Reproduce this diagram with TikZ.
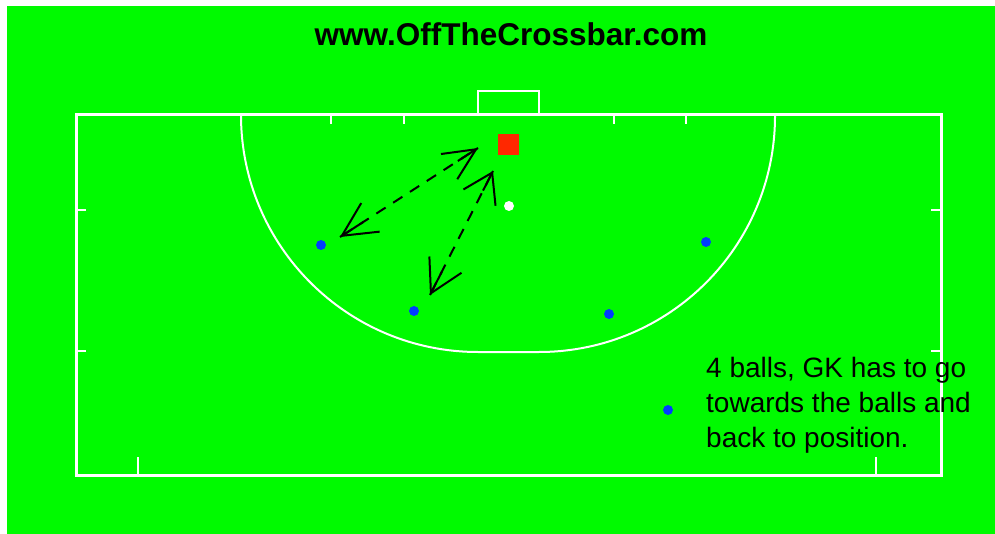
\documentclass[tikz,border=0pt]{standalone}
\usepackage{fontspec}
\setmainfont{Liberation Sans}
\usetikzlibrary{arrows.meta,calc}
\definecolor{pitch}{RGB}{0,250,0}
\definecolor{ballblue}{RGB}{0,60,255}
\definecolor{gkred}{RGB}{255,40,0}
\tikzset{
  fieldline/.style={draw=white, line width=3pt},
  dline/.style={draw=white, line width=2pt},
  ball/.style={circle, fill=ballblue, minimum size=10pt, inner sep=0pt},
  gk/.style={rectangle, fill=gkred, minimum size=21pt, inner sep=0pt},
  spot/.style={circle, fill=white, minimum size=10pt, inner sep=0pt},
  run/.style={draw=black, line width=2pt, dash pattern=on 11pt off 9pt},
  barbA/.style={{Straight Barb[length=34pt,width=34pt,line width=2pt]}-{Straight Barb[length=32pt,width=30pt,line width=2pt]}},
  barbB/.style={{Straight Barb[length=32pt,width=36pt,line width=2pt]}-{Straight Barb[length=28pt,width=36pt,line width=2pt]}},
  stem/.style={draw=black, line width=2pt},
  note/.style={anchor=base west, inner sep=0pt, font=\fontsize{28}{35}\selectfont},
}
\begin{document}
\begin{tikzpicture}[x=1pt,y=-1pt]
\useasboundingbox (0,0) rectangle (995,534);
\fill[white] (0,0) rectangle (995,534);
\fill[pitch] (7,6) rectangle (995,534);
% title
\node[inner sep=0pt, anchor=base, font=\bfseries\fontsize{31.5}{36}\selectfont] (title) at (511,46) {www.OffTheCrossbar.com};
% field outline
\draw[fieldline] (76,115) rectangle (941,475);
% goal
\draw[dline] (478,115) -- (478,91) -- (539,91) -- (539,115);
% shooting circle (D)
\draw[dline] (241,115) arc[start angle=180, end angle=90, radius=237] -- (539,352) arc[start angle=90, end angle=0, radius=236];
% back-line ticks
\foreach \x in {331,404,614,686} \draw[dline] (\x,115) -- (\x,124);
% side ticks
\foreach \y in {210,351} {
  \draw[dline] (76,\y) -- (86,\y);
  \draw[dline] (941,\y) -- (931,\y);
}
% bottom ticks
\draw[dline] (138,475) -- (138,457);
\draw[dline] (876,475) -- (876,457);
% players and balls
\node[gk] (gk) at (508.5,145) {};
\node[spot] (spot) at (509,206) {};
\node[ball] (b1) at (321,245) {};
\node[ball] (b2) at (414,311) {};
\node[ball] (b3) at (609,314) {};
\node[ball] (b4) at (706,242) {};
\node[ball] (b5) at (668,410) {};
% run arrows
\coordinate (a1s) at (340,237);
\coordinate (a1e) at (478,148);
\coordinate (a2s) at (430,295);
\coordinate (a2e) at (493,171);
\draw[run, barbA] (a1s) -- (a1e);
\draw[run, barbB] (a2s) -- (a2e);
\draw[stem] (a1s) -- ($(a1s)!28pt!(a1e)$);
\draw[stem] (a1e) -- ($(a1e)!24pt!(a1s)$);
\draw[stem] (a2s) -- ($(a2s)!26pt!(a2e)$);
\draw[stem] (a2e) -- ($(a2e)!22pt!(a2s)$);
% note
\node[note] (n1) at (706,377) {4 balls, GK has to go};
\node[note] (n2) at (706,412.5) {towards the balls and};
\node[note] (n3) at (706,447) {back to position.};
\end{tikzpicture}
\end{document}
